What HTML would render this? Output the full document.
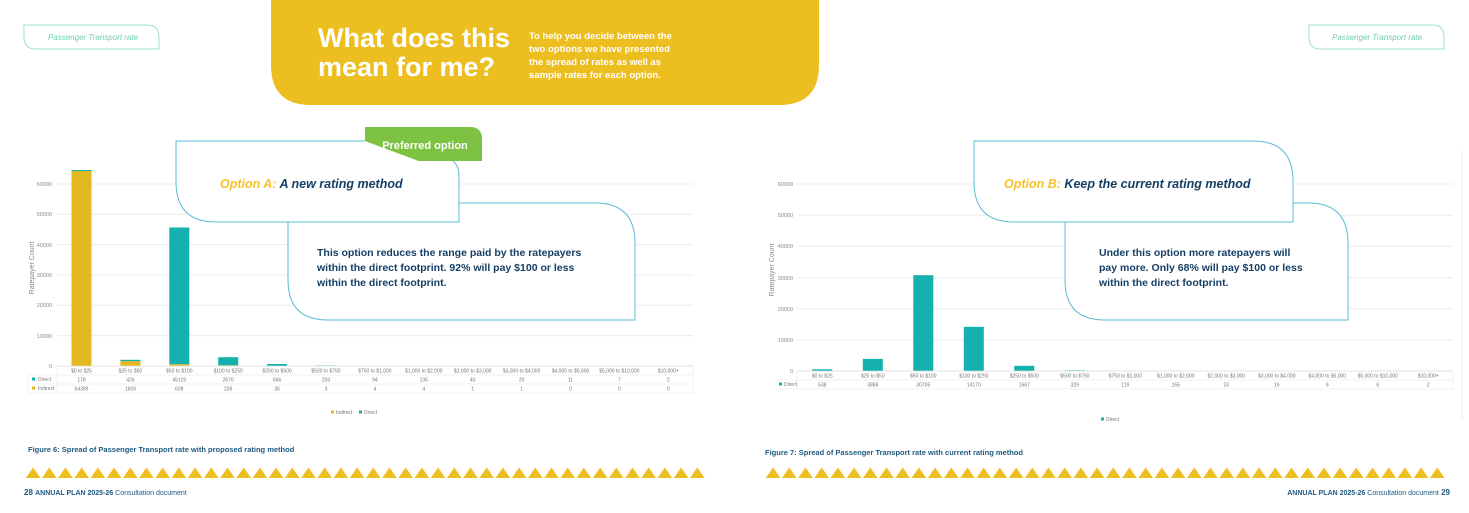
<!DOCTYPE html>
<html><head><meta charset="utf-8"><style>
body{margin:0;background:#fff;}
svg{display:block;font-family:"Liberation Sans",sans-serif;}
.ax{font-size:5.5px;fill:#888;}
.tb{font-size:5px;fill:#777;text-anchor:middle;}
.grid{stroke:#ececec;stroke-width:1;}
.cell{fill:none;stroke:#e6e6e6;stroke-width:0.6;}
</style></head><body>
<svg width="1469" height="513" viewBox="0 0 1469 513">
<defs>
<pattern id="tri" x="25" y="467" width="16.2" height="12" patternUnits="userSpaceOnUse">
<polygon points="0.8,11 8.1,0.5 15.4,11" fill="#EDBE20"/>
</pattern>
<pattern id="tri2" x="765" y="467" width="16.2" height="12" patternUnits="userSpaceOnUse">
<polygon points="0.8,11 8.1,0.5 15.4,11" fill="#EDBE20"/>
</pattern>
</defs>
<rect width="1469" height="513" fill="#fff"/>
<line x1="1462" y1="150" x2="1462" y2="420" stroke="#eee"/>

<!-- header pills -->
<path d="M24,25 H147 Q159,25 159,37 V49 H36 Q24,49 24,37 Z" fill="none" stroke="#9fe0c8" stroke-width="1"/>
<text x="93" y="40" font-size="8" font-style="italic" fill="#6fcfa8" text-anchor="middle">Passenger Transport rate</text>
<path d="M1309,25 H1432 Q1444,25 1444,37 V49 H1321 Q1309,49 1309,37 Z" fill="none" stroke="#9fe0c8" stroke-width="1"/>
<text x="1377" y="40" font-size="8" font-style="italic" fill="#6fcfa8" text-anchor="middle">Passenger Transport rate</text>

<!-- banner -->
<path d="M271,0 H819 V65 Q819,105 779,105 H311 Q271,105 271,65 Z" fill="#EDBE20"/>
<text x="318" y="47" font-size="27" font-weight="bold" fill="#fff">What does this</text>
<text x="318" y="76" font-size="27" font-weight="bold" fill="#fff">mean for me?</text>
<g font-size="9.5" font-weight="bold" fill="#fff">
<text x="529" y="39">To help you decide between the</text>
<text x="529" y="52">two options we have presented</text>
<text x="529" y="65">the spread of rates as well as</text>
<text x="529" y="78">sample rates for each option.</text>
</g>

<!-- LEFT CHART -->
<g>
<line class="grid" x1="57" y1="184" x2="693" y2="184"/>
<line class="grid" x1="57" y1="214.3" x2="693" y2="214.3"/>
<line class="grid" x1="57" y1="244.6" x2="693" y2="244.6"/>
<line class="grid" x1="57" y1="275" x2="693" y2="275"/>
<line class="grid" x1="57" y1="305.3" x2="693" y2="305.3"/>
<line class="grid" x1="57" y1="335.6" x2="693" y2="335.6"/>
<line x1="57" y1="366" x2="693" y2="366" stroke="#ddd"/>
<g class="ax" text-anchor="end">
<text x="52" y="186">60000</text><text x="52" y="216">50000</text><text x="52" y="247">40000</text>
<text x="52" y="277">30000</text><text x="52" y="307">20000</text><text x="52" y="338">10000</text><text x="52" y="368">0</text>
</g>
<text transform="translate(34,268) rotate(-90)" font-size="7" fill="#888" text-anchor="middle">Ratepayer Count</text>
<!-- bars -->
<rect x="71.5" y="170.9" width="20" height="195.1" fill="#E4B820"/><rect x="71.5" y="170" width="20" height="1" fill="#14B1AE"/>
<rect x="120.4" y="361.1" width="20" height="4.9" fill="#E4B820"/><rect x="120.4" y="359.8" width="20" height="1.3" fill="#14B1AE"/>
<rect x="169.3" y="364.2" width="20" height="1.8" fill="#E4B820"/><rect x="169.3" y="227.5" width="20" height="136.7" fill="#14B1AE"/>
<rect x="218.2" y="365.3" width="20" height="0.7" fill="#E4B820"/><rect x="218.2" y="357.2" width="20" height="8.1" fill="#14B1AE"/>
<rect x="267.1" y="364" width="20" height="2" fill="#14B1AE"/>
<rect x="316" y="365.2" width="20" height="0.8" fill="#8fd8d6"/>
<!-- table -->
<g>
<rect class="cell" x="57" y="366" width="636" height="27"/>
<line class="cell" x1="28" y1="375" x2="693" y2="375"/><line class="cell" x1="28" y1="384" x2="693" y2="384"/>
<line class="cell" x1="28" y1="375" x2="28" y2="393"/><line class="cell" x1="28" y1="393" x2="57" y2="393"/>
</g>
<rect x="32" y="377.5" width="3" height="3" fill="#14B1AE"/><text x="38" y="381" font-size="5" fill="#777">Direct</text>
<rect x="32" y="386.5" width="3" height="3" fill="#E4B820"/><text x="38" y="390" font-size="5" fill="#777">Indirect</text>
<g class="tb">
<text x="81.5" y="372.5">$0 to $25</text><text x="130.4" y="372.5">$25 to $50</text><text x="179.3" y="372.5">$50 to $100</text><text x="228.2" y="372.5">$100 to $250</text><text x="277.1" y="372.5">$250 to $500</text><text x="326" y="372.5">$500 to $750</text><text x="374.9" y="372.5">$750 to $1,000</text><text x="423.8" y="372.5">$1,000 to $2,000</text><text x="472.7" y="372.5">$2,000 to $3,000</text><text x="521.6" y="372.5">$3,000 to $4,000</text><text x="570.5" y="372.5">$4,000 to $5,000</text><text x="619.4" y="372.5">$5,000 to $10,000</text><text x="668.3" y="372.5">$10,000+</text>
<text x="81.5" y="381.5">178</text><text x="130.4" y="381.5">426</text><text x="179.3" y="381.5">45119</text><text x="228.2" y="381.5">2670</text><text x="277.1" y="381.5">666</text><text x="326" y="381.5">203</text><text x="374.9" y="381.5">94</text><text x="423.8" y="381.5">136</text><text x="472.7" y="381.5">40</text><text x="521.6" y="381.5">20</text><text x="570.5" y="381.5">11</text><text x="619.4" y="381.5">7</text><text x="668.3" y="381.5">2</text>
<text x="81.5" y="390.5">64389</text><text x="130.4" y="390.5">1609</text><text x="179.3" y="390.5">608</text><text x="228.2" y="390.5">239</text><text x="277.1" y="390.5">35</text><text x="326" y="390.5">3</text><text x="374.9" y="390.5">4</text><text x="423.8" y="390.5">4</text><text x="472.7" y="390.5">1</text><text x="521.6" y="390.5">1</text><text x="570.5" y="390.5">0</text><text x="619.4" y="390.5">0</text><text x="668.3" y="390.5">0</text>
</g>
<rect x="331" y="410.5" width="3" height="3" fill="#E4B820"/><text x="336" y="414" font-size="5" fill="#777">Indirect</text>
<rect x="359" y="410.5" width="3" height="3" fill="#14B1AE"/><text x="364" y="414" font-size="5" fill="#777">Direct</text>
</g>

<!-- LEFT CALLOUTS -->
<path d="M288,203 H595 Q635,203 635,243 V320 H328 Q288,320 288,280 Z" fill="#fff" stroke="#5bbcd3" stroke-width="1"/>
<path d="M365,127 H470 Q482,127 482,139 V161 H377 Q365,161 365,149 Z" fill="#7DC242"/>
<text x="425" y="149" font-size="11" font-weight="bold" fill="#fff" text-anchor="middle">Preferred option</text>
<path d="M365,141 H176 V182 Q176,222 216,222 H459 V176" fill="#fff" stroke="#5bbcd3" stroke-width="1"/>
<path d="M453,161 Q459,166 459,176" fill="none" stroke="#5bbcd3" stroke-width="1"/>
<rect x="177" y="142" width="188" height="19" fill="#fff"/>
<line x1="176" y1="141" x2="365" y2="141" stroke="#5bbcd3"/>
<text x="220" y="188" font-size="12.5" font-weight="bold" font-style="italic"><tspan fill="#F5C32C">Option A:</tspan><tspan fill="#153f66"> A new rating method</tspan></text>
<g font-size="10.5" font-weight="bold" fill="#153f66">
<text x="317" y="256">This option reduces the range paid by the ratepayers</text>
<text x="317" y="271">within the direct footprint. 92% will pay $100 or less</text>
<text x="317" y="286">within the direct footprint.</text>
</g>

<!-- RIGHT CHART -->
<g>
<line class="grid" x1="797" y1="184" x2="1453" y2="184"/>
<line class="grid" x1="797" y1="215.2" x2="1453" y2="215.2"/>
<line class="grid" x1="797" y1="246.4" x2="1453" y2="246.4"/>
<line class="grid" x1="797" y1="277.6" x2="1453" y2="277.6"/>
<line class="grid" x1="797" y1="308.8" x2="1453" y2="308.8"/>
<line class="grid" x1="797" y1="340" x2="1453" y2="340"/>
<line x1="797" y1="371" x2="1453" y2="371" stroke="#ddd"/>
<g class="ax" text-anchor="end">
<text x="793" y="186">60000</text><text x="793" y="217">50000</text><text x="793" y="248">40000</text>
<text x="793" y="280">30000</text><text x="793" y="311">20000</text><text x="793" y="342">10000</text><text x="793" y="373">0</text>
</g>
<text transform="translate(774,270) rotate(-90)" font-size="7" fill="#888" text-anchor="middle">Ratepayer Count</text>
<rect x="812.3" y="369.3" width="20" height="1.7" fill="#14B1AE"/>
<rect x="862.8" y="358.9" width="20" height="12.1" fill="#14B1AE"/>
<rect x="913.3" y="275.2" width="20" height="95.8" fill="#14B1AE"/>
<rect x="963.8" y="326.8" width="20" height="44.2" fill="#14B1AE"/>
<rect x="1014.3" y="365.8" width="20" height="5.2" fill="#14B1AE"/>
<rect x="1064.8" y="370" width="20" height="1" fill="#8fd8d6"/>
<rect class="cell" x="797" y="371" width="656" height="18"/>
<line class="cell" x1="776" y1="380" x2="1453" y2="380"/>
<line class="cell" x1="776" y1="380" x2="776" y2="389"/><line class="cell" x1="776" y1="389" x2="797" y2="389"/>
<rect x="779" y="382.5" width="3" height="3" fill="#14B1AE"/><text x="784" y="386" font-size="5" fill="#777">Direct</text>
<g class="tb">
<text x="822.3" y="377.5">$0 to $25</text><text x="872.8" y="377.5">$25 to $50</text><text x="923.3" y="377.5">$50 to $100</text><text x="973.8" y="377.5">$100 to $250</text><text x="1024.3" y="377.5">$250 to $500</text><text x="1074.8" y="377.5">$500 to $750</text><text x="1125.3" y="377.5">$750 to $1,000</text><text x="1175.8" y="377.5">$1,000 to $2,000</text><text x="1226.3" y="377.5">$2,000 to $3,000</text><text x="1276.8" y="377.5">$3,000 to $4,000</text><text x="1327.3" y="377.5">$4,000 to $5,000</text><text x="1377.8" y="377.5">$5,000 to $10,000</text><text x="1428.3" y="377.5">$10,000+</text>
<text x="822.3" y="386.5">538</text><text x="872.8" y="386.5">3868</text><text x="923.3" y="386.5">30705</text><text x="973.8" y="386.5">14170</text><text x="1024.3" y="386.5">1667</text><text x="1074.8" y="386.5">329</text><text x="1125.3" y="386.5">119</text><text x="1175.8" y="386.5">155</text><text x="1226.3" y="386.5">33</text><text x="1276.8" y="386.5">16</text><text x="1327.3" y="386.5">6</text><text x="1377.8" y="386.5">6</text><text x="1428.3" y="386.5">2</text>
</g>
<rect x="1101" y="417.5" width="3" height="3" fill="#14B1AE"/><text x="1106" y="421" font-size="5" fill="#777">Direct</text>
</g>

<!-- RIGHT CALLOUTS -->
<path d="M1065,203 H1308 Q1348,203 1348,243 V320 H1105 Q1065,320 1065,280 Z" fill="#fff" stroke="#5bbcd3" stroke-width="1"/>
<path d="M974,141 H1253 Q1293,141 1293,181 V222 H1014 Q974,222 974,182 Z" fill="#fff" stroke="#5bbcd3" stroke-width="1"/>
<text x="1004" y="188" font-size="12.5" font-weight="bold" font-style="italic"><tspan fill="#F5C32C">Option B:</tspan><tspan fill="#153f66">  Keep the current rating method</tspan></text>
<g font-size="10.5" font-weight="bold" fill="#153f66">
<text x="1099" y="256">Under this option more ratepayers will</text>
<text x="1099" y="271">pay more. Only 68% will pay $100 or less</text>
<text x="1099" y="286">within the direct footprint.</text>
</g>

<!-- captions & footers -->
<text x="28" y="452" font-size="7.5" font-weight="bold" fill="#1d5a80">Figure 6: Spread of Passenger Transport rate with proposed rating method</text>
<text x="765" y="455" font-size="7.5" font-weight="bold" fill="#1d5a80">Figure 7: Spread of Passenger Transport rate with current rating method</text>
<rect x="25" y="467" width="680" height="12" fill="url(#tri)"/>
<rect x="765" y="467" width="680" height="12" fill="url(#tri2)"/>
<text x="24" y="495" font-size="8" font-weight="bold" fill="#1d5a80">28 <tspan font-size="7">  ANNUAL PLAN 2025-26 </tspan><tspan font-size="7" font-weight="normal">Consultation document</tspan></text>
<text x="1450" y="495" font-size="8" font-weight="bold" fill="#1d5a80" text-anchor="end"><tspan font-size="7">ANNUAL PLAN 2025-26 </tspan><tspan font-size="7" font-weight="normal">Consultation document</tspan>  29</text>
</svg>
</body></html>
